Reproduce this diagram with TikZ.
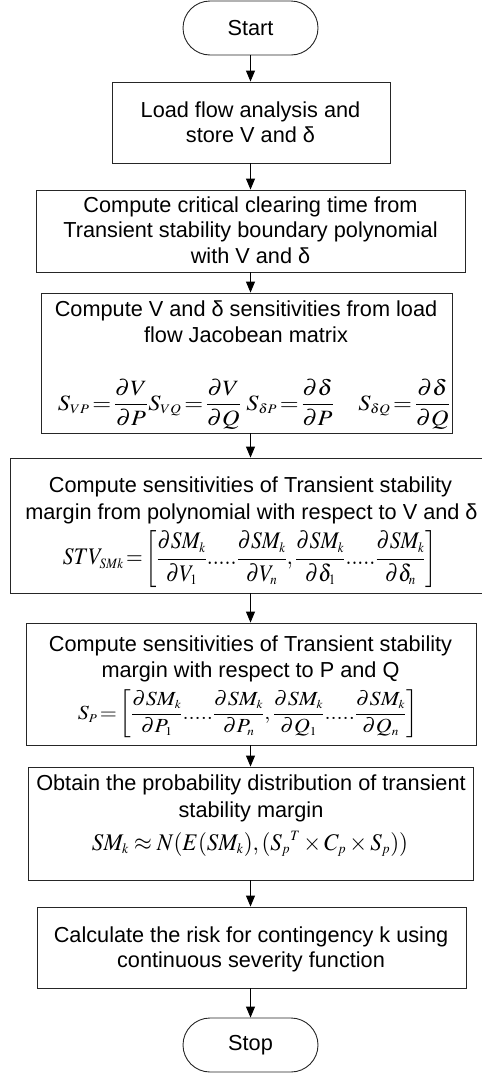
\documentclass[tikz,border=0pt]{standalone}
\usepackage{mathptmx}
\usepackage{graphicx}
\usepackage[no-math]{fontspec}
\setmainfont{Liberation Sans}
\usetikzlibrary{arrows.meta,shapes.misc}
\tikzset{
  stepbox/.style={draw=black!85, line width=0.9pt, rectangle, inner sep=0pt},
  term/.style={draw=black!85, line width=0.9pt, rounded rectangle, minimum width=135pt,
    minimum height=54pt, inner sep=0pt, font=\fontsize{21.7}{26}\selectfont},
  txt/.style={inner sep=0pt, anchor=base, font=\fontsize{21.7}{26}\selectfont},
  fml/.style={inner sep=0pt, anchor=center, font=\fontsize{21.7}{26}\selectfont},
  arr/.style={draw=black, line width=0.9pt, -{Triangle[length=11pt,width=9pt]}}
}
\newcommand{\pd}{\partial}
\newcommand{\sss}[1]{{\scriptscriptstyle #1}}
\begin{document}
\begin{tikzpicture}[x=1pt,y=-1pt]
\useasboundingbox (0,0) rectangle (482,1074);
\begin{scope}
\clip (0,0) rectangle (482,1074);
% terminals and boxes
\node[term] (start) at (250.5,28) {Start};
\node[stepbox, minimum width=278pt, minimum height=81pt] (b1) at (251,122.5) {};
\node[stepbox, minimum width=429pt, minimum height=82pt] (b2) at (250.5,231) {};
\node[stepbox, minimum width=411pt, minimum height=140pt] (b3) at (246.5,363) {};
\node[stepbox, minimum width=474pt, minimum height=135pt] (b4) at (247,525.5) {};
\node[stepbox, minimum width=450pt, minimum height=122pt] (b5) at (251,684) {};
\node[stepbox, minimum width=445pt, minimum height=113pt] (b6) at (250.5,823.5) {};
\node[stepbox, minimum width=429pt, minimum height=81pt] (b7) at (251.5,947.5) {};
\node[term] (stop) at (250.5,1045) {Stop};
% texts
\node[txt] (t1a) at (250.5,117) {Load flow analysis and};
\node[txt] (t1b) at (250.5,142.5) {store V and δ};
\node[txt] (t2a) at (250.5,212) {Compute critical clearing time from};
\node[txt] (t2b) at (250.5,237.5) {Transient stability boundary polynomial};
\node[txt] (t2c) at (250.5,263) {with V and δ};
\node[txt] (t3a) at (246,316) {Compute V and δ sensitivities from load};
\node[txt] (t3b) at (246,342) {flow Jacobean matrix};
\node[fml] (f3) at (254,404)
  {\resizebox*{392pt}{50pt}{$\displaystyle S_{\sss{VP}}\!=\!\frac{\pd V}{\pd P}S_{\sss{VQ}}\!=\!\frac{\pd V}{\pd Q}\;S_{\sss{\delta P}}\!=\!\frac{\pd \delta}{\pd P}\quad S_{\sss{\delta Q}}\!=\!\frac{\pd \delta}{\pd Q}$}};
\node[txt] (t4a) at (250.5,492) {Compute sensitivities of Transient stability};
\node[txt] (t4b) at (251.5,519) {margin from polynomial with respect to V and δ};
\node[fml] (f4) at (250,559)
  {\resizebox*{374pt}{57pt}{$\displaystyle STV_{\sss{SMk}}\!=\!\left[\frac{\pd SM_{\sss k}}{\pd V_{\sss 1}}.....\frac{\pd SM_{\sss k}}{\pd V_{\sss n}},\frac{\pd SM_{\sss k}}{\pd \delta_{\sss 1}}.....\frac{\pd SM_{\sss k}}{\pd \delta_{\sss n}}\right]$}};
\node[txt] (t5a) at (250.5,651) {Compute sensitivities of Transient stability};
\node[txt] (t5b) at (250.5,677) {margin with respect to P and Q};
\node[fml] (f5) at (248,714)
  {\resizebox*{340pt}{48pt}{$\displaystyle S_{\sss P}\!=\!\left[\frac{\pd SM_{\sss k}}{\pd P_{\sss 1}}.....\frac{\pd SM_{\sss k}}{\pd P_{\sss n}},\frac{\pd SM_{\sss k}}{\pd Q_{\sss 1}}.....\frac{\pd SM_{\sss k}}{\pd Q_{\sss n}}\right]$}};
\node[txt] (t6a) at (251,790) {Obtain the probability distribution of transient};
\node[txt] (t6b) at (251,817) {stability margin};
\node[fml] (f6) at (250,844)
  {\resizebox*{316pt}{25pt}{$SM_{\sss k}\approx N(E(SM_{\sss k}),({S_{\sss p}}^{\sss T}\times C_{\sss p}\times S_{\sss p}))$}};
\node[txt] (t7a) at (251,942) {Calculate the risk for contingency k using};
\node[txt] (t7b) at (251,967) {continuous severity function};
% connectors
\draw[arr] (start.south) -- (start.south |- b1.north);
\draw[arr] (b1.south -| start.south) -- (b2.north -| start.south);
\draw[arr] (b2.south -| start.south) -- (b3.north -| start.south);
\draw[arr] (b3.south -| start.south) -- (b4.north -| start.south);
\draw[arr] (b4.south -| start.south) -- (b5.north -| start.south);
\draw[arr] (b5.south -| start.south) -- (b6.north -| start.south);
\draw[arr] (b6.south -| start.south) -- (b7.north -| start.south);
\draw[arr] (b7.south -| start.south) -- (stop.north);
\end{scope}
\end{tikzpicture}
\end{document}
